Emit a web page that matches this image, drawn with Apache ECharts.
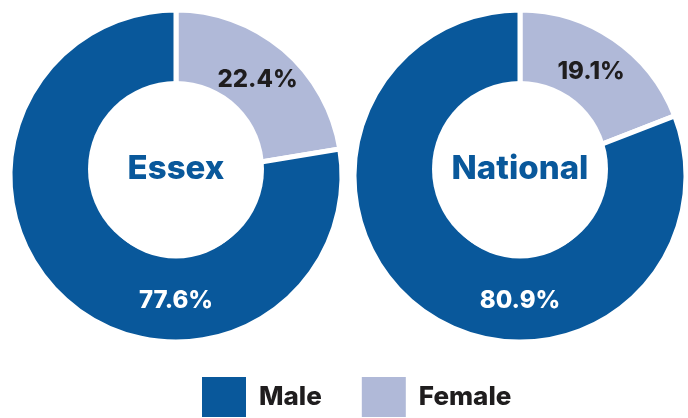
<!DOCTYPE html>
<html>
<head>
<meta charset="utf-8">
<style>
  html, body { margin: 0; padding: 0; background: #fff; }
  #chart { width: 688px; height: 418px; }
</style>
<script src="https://cdn.jsdelivr.net/npm/echarts@6/dist/echarts.min.js"></script>
</head>
<body>
<div id="chart"></div>
<script>
// ─── Data ─────────────────────────────────────────────
const categories = ["Female", "Male"];
const essexValues = [22.4, 77.6];
const nationalValues = [19.1, 80.9];
const regionNames = ["Essex", "National"];

// ─── Look ─────────────────────────────────────────────
const BLUE = "#09589B";
const LAVENDER = "#B0B9D8";
const INK = "#1f1d1e";
const FONT = "Inter, 'Noto Sans', sans-serif";

const centers = [[176, 176], [520, 176]];
const holeCenters = [[176, 169], [520, 169]];
const OUTER = 166;
const HOLE = 88;

function donut(values, i) {
  const [cx, cy] = centers[i];
  return {
    type: "pie",
    center: centers[i],
    radius: [80, OUTER],
    startAngle: 90,
    clockwise: true,
    avoidLabelOverlap: false,
    silent: true,
    itemStyle: { borderColor: "#fff", borderWidth: 5 },
    label: {
      show: true,
      position: "inside",
      formatter: (p) => p.value.toFixed(1) + "%",
      fontFamily: FONT,
      fontSize: 24,
      fontWeight: 800,
    },
    labelLine: { show: false },
    // male share sits at the bottom of the ring, not at its mid angle
    labelLayout: (p) => (p.dataIndex === 1 ? { x: cx, y: cy + 125 } : {}),
    data: categories.map((name, k) => ({
      name,
      value: values[k],
      itemStyle: { color: name === "Male" ? BLUE : LAVENDER },
      label: { color: name === "Male" ? "#fff" : INK },
    })),
  };
}

// white hole with the region name in it
function hole(i) {
  return {
    type: "pie",
    center: holeCenters[i],
    radius: [0, HOLE],
    silent: true,
    z: 3,
    itemStyle: { color: "#fff" },
    label: {
      show: true,
      position: "center",
      formatter: "{b}",
      color: BLUE,
      fontFamily: FONT,
      fontSize: 33,
      fontWeight: 800,
    },
    labelLine: { show: false },
    data: [{ name: regionNames[i], value: 1 }],
  };
}

const chart = echarts.init(document.getElementById("chart"), null, { renderer: "canvas" });
chart.setOption({
  animation: false,
  color: [LAVENDER, BLUE],
  legend: {
    data: ["Male", "Female"],
    left: 200,
    top: 375,
    padding: 0,
    icon: "rect",
    itemWidth: 46,
    itemHeight: 42,
    itemGap: 38,
    selectedMode: false,
    textStyle: { color: INK, fontFamily: FONT, fontSize: 26, fontWeight: 800, padding: [0, 0, 0, 7] },
  },
  series: [donut(essexValues, 0), donut(nationalValues, 1), hole(0), hole(1)],
});
</script>
</body>
</html>
